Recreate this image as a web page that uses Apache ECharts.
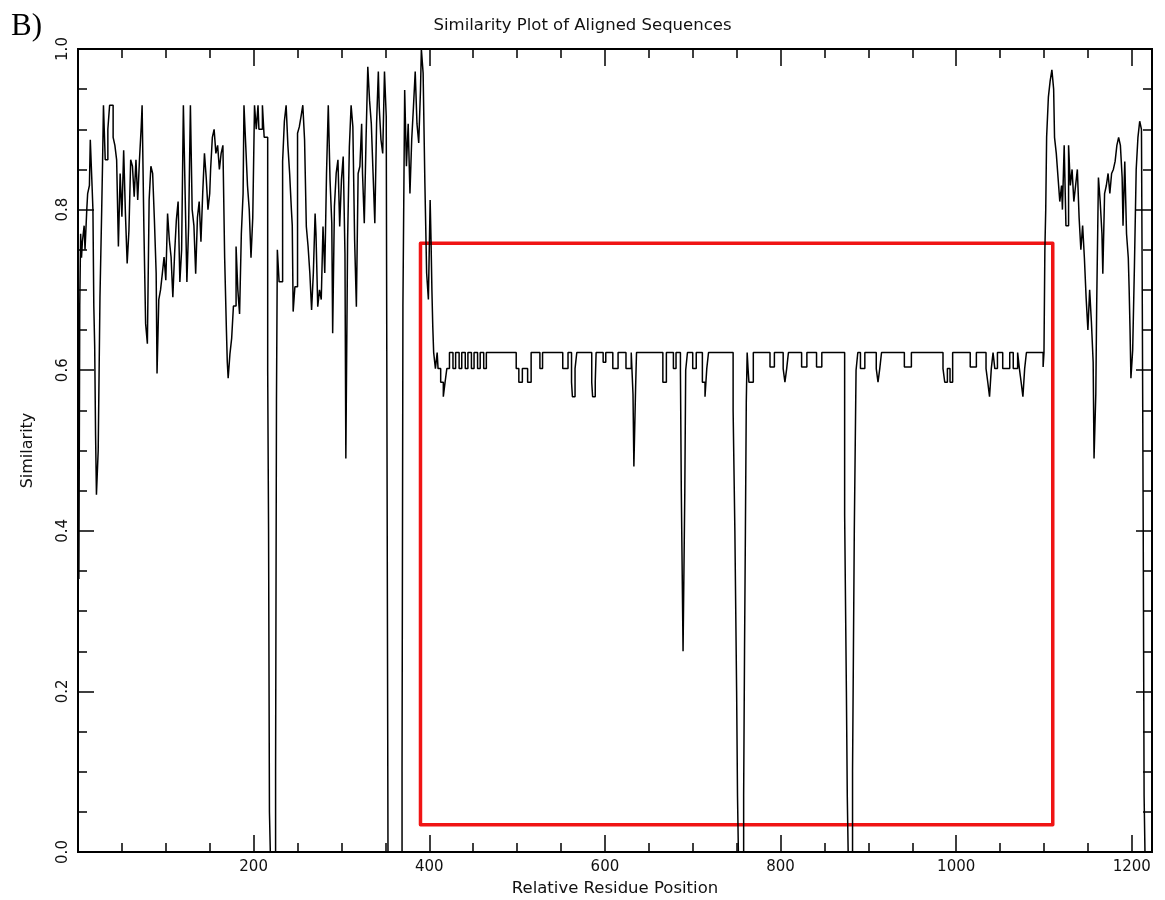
<!DOCTYPE html>
<html lang="en">
<head>
    <meta charset="UTF-8">
    <title>Similarity Plot of Aligned Sequences</title>
    <script src="https://cdn.jsdelivr.net/npm/echarts@6/dist/echarts.min.js"></script>
    <style>
        body { margin: 0; padding: 0; background: #fff; }
        #chart { width: 1165px; height: 900px; }
    </style>
</head>
<body>
<div id="chart"></div>
<script>
// residue position where each level starts (step plot)
const posLeft = [1, 2, 3, 4, 5, 7, 8, 10, 11, 13, 14, 16, 17, 18, 19, 20, 21, 23, 25, 27, 28, 29, 31, 34, 36, 40, 42, 44, 46, 48, 50, 52, 54, 56, 58, 60, 62, 64, 66, 68, 70, 72, 73, 75, 77, 79, 81, 83, 85, 87, 89, 90, 92, 94, 96, 98, 100, 102, 104, 106, 108, 110, 112, 114, 116, 118, 120, 122, 124, 126, 128, 130, 132, 134, 136, 138, 140, 142, 144, 146, 148, 150, 151, 153, 155, 157, 159, 161, 163, 165, 167, 169, 170, 171, 173, 175, 177, 180, 182, 184, 186, 188, 189, 191, 193, 195, 197, 199, 201, 203, 205, 206, 210, 212, 216, 217, 218, 219, 225, 226, 227, 229, 233, 235, 237, 239, 241, 243, 244, 245, 247, 250, 252, 254, 256, 258, 260, 262, 264, 266, 268, 270, 271, 273, 275, 277, 279, 281, 283, 285, 287, 289, 290, 292, 294, 296, 298, 300, 302, 304, 305, 307, 309, 311, 313, 315, 317, 319, 321, 323, 324, 326, 328, 330, 332, 334, 336, 338, 340, 342, 343, 345, 347, 349, 351, 352, 353, 369, 370, 372, 374, 376, 378, 380, 382, 384, 386, 388, 390, 391, 393, 395, 397, 399, 401, 402];
const simLeft = [0.34, 0.68, 0.77, 0.74, 0.76, 0.78, 0.75, 0.80, 0.82, 0.83, 0.887, 0.83, 0.80, 0.68, 0.63, 0.52, 0.445, 0.50, 0.69, 0.80, 0.86, 0.93, 0.862, 0.90, 0.93, 0.89, 0.88, 0.862, 0.754, 0.845, 0.791, 0.874, 0.795, 0.733, 0.774, 0.862, 0.854, 0.816, 0.862, 0.812, 0.862, 0.903, 0.93, 0.779, 0.658, 0.633, 0.812, 0.854, 0.845, 0.787, 0.721, 0.596, 0.688, 0.70, 0.72, 0.741, 0.712, 0.795, 0.762, 0.741, 0.691, 0.745, 0.787, 0.81, 0.71, 0.75, 0.93, 0.82, 0.71, 0.78, 0.93, 0.80, 0.78, 0.72, 0.79, 0.81, 0.76, 0.82, 0.87, 0.84, 0.80, 0.82, 0.85, 0.89, 0.90, 0.87, 0.88, 0.85, 0.87, 0.88, 0.74, 0.65, 0.61, 0.59, 0.62, 0.64, 0.68, 0.754, 0.70, 0.67, 0.77, 0.82, 0.93, 0.88, 0.83, 0.80, 0.74, 0.79, 0.93, 0.90, 0.93, 0.90, 0.93, 0.89, 0.60, 0.40, 0.05, 0.0, 0.10, 0.56, 0.75, 0.71, 0.86, 0.91, 0.93, 0.88, 0.845, 0.80, 0.78, 0.673, 0.704, 0.895, 0.903, 0.916, 0.93, 0.887, 0.779, 0.754, 0.721, 0.675, 0.721, 0.795, 0.77, 0.679, 0.70, 0.688, 0.779, 0.721, 0.845, 0.93, 0.837, 0.783, 0.646, 0.804, 0.845, 0.862, 0.779, 0.837, 0.866, 0.745, 0.49, 0.762, 0.878, 0.93, 0.903, 0.762, 0.679, 0.845, 0.854, 0.907, 0.845, 0.783, 0.887, 0.978, 0.936, 0.907, 0.845, 0.783, 0.907, 0.972, 0.928, 0.887, 0.870, 0.972, 0.916, 0.45, 0.0, 0.10, 0.68, 0.949, 0.854, 0.907, 0.82, 0.887, 0.928, 0.972, 0.907, 0.883, 0.949, 1.0, 0.97, 0.833, 0.721, 0.688, 0.812, 0.762];

const posMid = [403, 404, 405, 407, 409, 410, 413, 416, 418, 420, 423, 427, 430, 434, 437, 441, 444, 448, 451, 455, 458, 462, 465, 499, 502, 506, 512, 516, 526, 529, 552, 558, 562, 563, 566, 568, 585, 586, 589, 590, 598, 601, 609, 615, 624, 630, 632, 633, 635, 636, 666, 670, 678, 681, 686, 687, 689, 691, 692, 694, 700, 704, 711, 714, 716, 718, 746, 748, 750, 751, 752, 758, 759, 760, 761, 762, 763, 764, 769, 788, 793, 803, 805, 807, 809, 824, 830, 841, 847, 873, 875, 876, 877, 882, 883, 884, 886, 888, 891, 896, 909, 911, 913, 915, 941, 949, 985, 987, 990, 993, 996, 1016, 1023, 1034, 1036, 1038, 1040, 1042, 1044, 1047, 1053, 1061, 1065, 1070, 1072, 1074, 1076, 1078, 1080, 1099, 1100];
const simMid = [0.70, 0.654, 0.622, 0.602, 0.622, 0.602, 0.585, 0.567, 0.585, 0.602, 0.622, 0.602, 0.622, 0.602, 0.622, 0.602, 0.622, 0.602, 0.622, 0.602, 0.622, 0.602, 0.622, 0.602, 0.585, 0.602, 0.585, 0.622, 0.602, 0.622, 0.602, 0.622, 0.585, 0.567, 0.602, 0.622, 0.585, 0.567, 0.585, 0.622, 0.61, 0.622, 0.602, 0.622, 0.602, 0.622, 0.57, 0.48, 0.58, 0.622, 0.585, 0.622, 0.602, 0.622, 0.60, 0.45, 0.25, 0.45, 0.60, 0.622, 0.602, 0.622, 0.585, 0.567, 0.602, 0.622, 0.55, 0.40, 0.20, 0.07, 0.0, 0.07, 0.25, 0.40, 0.56, 0.622, 0.602, 0.585, 0.622, 0.604, 0.622, 0.602, 0.585, 0.602, 0.622, 0.604, 0.622, 0.604, 0.622, 0.42, 0.20, 0.07, 0.0, 0.10, 0.25, 0.40, 0.60, 0.622, 0.602, 0.622, 0.602, 0.585, 0.602, 0.622, 0.604, 0.622, 0.602, 0.585, 0.602, 0.585, 0.622, 0.604, 0.622, 0.602, 0.585, 0.567, 0.602, 0.622, 0.602, 0.622, 0.602, 0.622, 0.602, 0.622, 0.602, 0.585, 0.567, 0.602, 0.622, 0.604, 0.622];

const posRight = [1101, 1102, 1103, 1105, 1107, 1109, 1111, 1112, 1114, 1116, 1118, 1120, 1121, 1123, 1125, 1128, 1130, 1132, 1134, 1136, 1138, 1140, 1142, 1144, 1146, 1148, 1150, 1152, 1154, 1156, 1157, 1159, 1160, 1162, 1164, 1166, 1167, 1169, 1171, 1173, 1175, 1177, 1179, 1181, 1183, 1185, 1187, 1189, 1190, 1192, 1194, 1196, 1197, 1198, 1199, 1201, 1203, 1205, 1207, 1209, 1211, 1212, 1213, 1214, 1215, 1222];
const simRight = [0.75, 0.80, 0.89, 0.94, 0.96, 0.974, 0.95, 0.89, 0.87, 0.84, 0.81, 0.83, 0.80, 0.88, 0.78, 0.88, 0.83, 0.85, 0.81, 0.83, 0.85, 0.79, 0.75, 0.78, 0.74, 0.69, 0.65, 0.70, 0.66, 0.61, 0.49, 0.57, 0.68, 0.84, 0.81, 0.77, 0.72, 0.82, 0.83, 0.845, 0.82, 0.845, 0.85, 0.86, 0.88, 0.89, 0.88, 0.84, 0.78, 0.86, 0.77, 0.74, 0.70, 0.65, 0.59, 0.625, 0.73, 0.85, 0.89, 0.91, 0.90, 0.67, 0.40, 0.07, 0.0, 0.0];

// highlighted region (red box), in data units
const boxX = [390, 1110];
const boxY = [0.034, 0.758];

const xMax = 1223;
const font = 'DejaVu Sans';

const positions = posLeft.concat(posMid, posRight);
const values = simLeft.concat(simMid, simRight);
const lineData = positions.map((p, i) => [p, values[i]]);
const boxData = [
    [boxX[0], boxY[0]], [boxX[1], boxY[0]], [boxX[1], boxY[1]],
    [boxX[0], boxY[1]], [boxX[0], boxY[0]]
];

const chart = echarts.init(document.getElementById('chart'), null, { renderer: 'canvas' });

function xAxisDef(pos, interval, tickLen, withLabels) {
    return {
        type: 'value',
        position: pos,
        min: 0,
        max: xMax,
        interval: interval,
        splitLine: { show: false },
        axisLine: { show: true, onZero: false, lineStyle: { color: '#000', width: 2 } },
        axisTick: { inside: true, length: tickLen, lineStyle: { color: '#000', width: 1.5 } },
        axisLabel: withLabels ? {
            show: true, showMinLabel: false, showMaxLabel: false,
            color: '#111', fontFamily: font, fontSize: 15, margin: 8,
            formatter: v => String(v)
        } : { show: false }
    };
}

function yAxisDef(pos, withLabels) {
    return {
        type: 'value',
        position: pos,
        min: 0,
        max: 1,
        interval: 0.2,
        splitLine: { show: false },
        axisLine: { show: true, onZero: false, lineStyle: { color: '#000', width: 2 } },
        axisTick: { inside: true, length: 16, lineStyle: { color: '#000', width: 1.5 } },
        minorTick: { show: true, splitNumber: 4, length: 9, lineStyle: { color: '#000', width: 1.5 } },
        minorSplitLine: { show: false },
        axisLabel: withLabels ? {
            show: true, rotate: 90, margin: 7,
            color: '#111', fontFamily: font, fontSize: 15,
            formatter: v => v.toFixed(1)
        } : { show: false },
        name: withLabels ? 'Similarity' : '',
        nameLocation: 'middle',
        nameRotate: 90,
        nameGap: 42,
        nameTextStyle: { color: '#111', fontFamily: font, fontSize: 16 }
    };
}

const xBottom = xAxisDef('bottom', 200, 17, true);
xBottom.name = 'Relative Residue Position';
xBottom.nameLocation = 'middle';
xBottom.nameGap = 27;
xBottom.nameTextStyle = { color: '#111', fontFamily: font, fontSize: 16.5 };

const option = {
    backgroundColor: '#fff',
    animation: false,
    title: {
        text: 'Similarity Plot of Aligned Sequences',
        left: 'center',
        top: 12,
        textStyle: { color: '#111', fontFamily: font, fontSize: 16.5, fontWeight: 'normal' }
    },
    graphic: [{
        type: 'text',
        left: 11,
        top: 11,
        style: { text: 'B)', fill: '#000', font: '31px "Liberation Serif"' }
    }],
    grid: { left: 78, right: 13, top: 49, bottom: 48, outerBoundsMode: 'none' },
    xAxis: [
        xBottom,
        xAxisDef('bottom', 50, 9, false),
        xAxisDef('top', 200, 17, false),
        xAxisDef('top', 50, 9, false)
    ],
    yAxis: [yAxisDef('left', true), yAxisDef('right', false)],
    series: [
        {
            type: 'line',
            data: boxData,
            showSymbol: false,
            silent: true,
            z: 2,
            lineStyle: { color: '#f01414', width: 3.5, join: 'round', cap: 'round' }
        },
        {
            type: 'line',
            step: 'end',
            data: lineData,
            showSymbol: false,
            z: 3,
            lineStyle: { color: '#000', width: 1.5 }
        }
    ]
};

chart.setOption(option);
</script>
</body>
</html>
